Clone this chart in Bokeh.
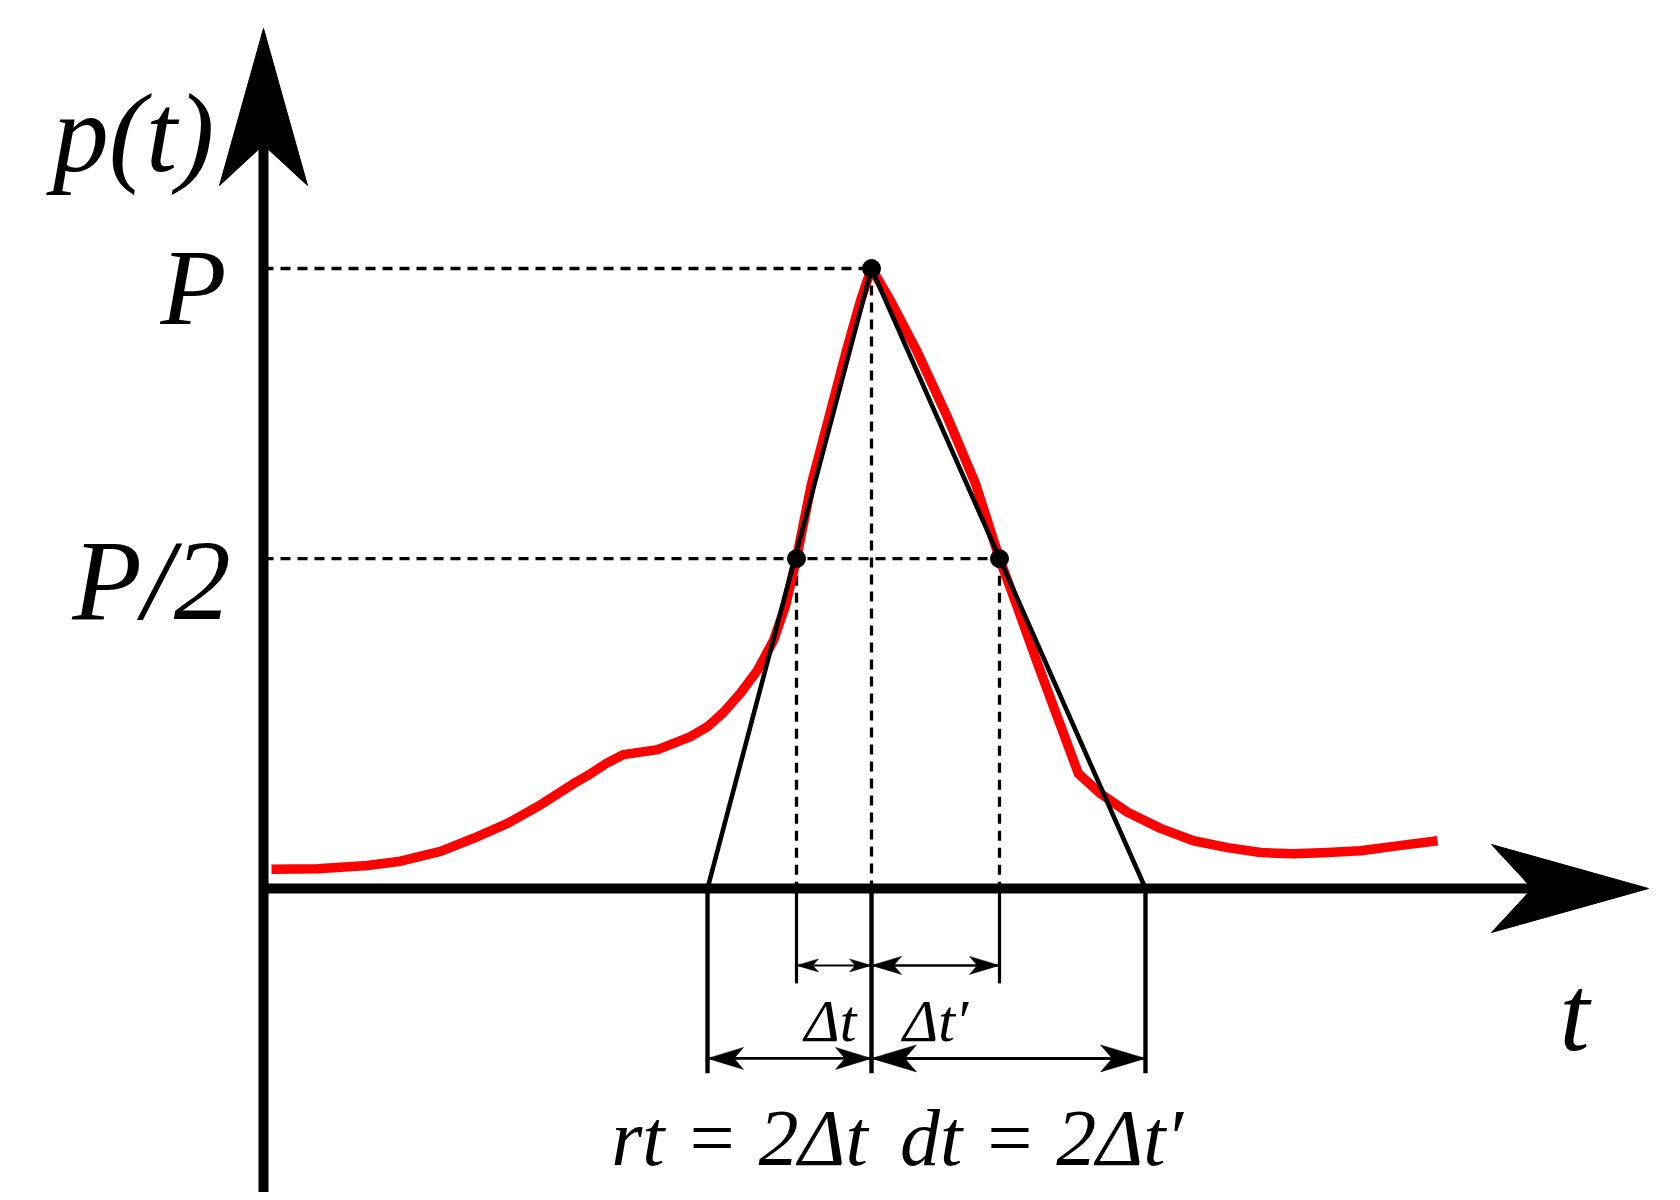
from bokeh.plotting import figure
from bokeh.models import Range1d
from bokeh.embed import file_html
from bokeh.resources import INLINE
from bokeh.core.properties import value

# ---------------- data (t in arbitrary time units, p normalised so P = 1) ----------------
curve_t = [0.08, 0.54, 1.04, 1.37, 1.77, 2.10, 2.44, 2.77, 3.10, 3.27, 3.44, 3.60, 3.77,
           3.94, 4.10, 4.27, 4.44, 4.60, 4.77, 4.94, 5.10, 5.22, 5.33, 5.48, 5.655,
           5.83, 5.97, 6.03, 6.08, 6.14, 6.27, 6.53, 6.84, 7.12, 7.36, 7.54, 7.74,
           7.94, 8.15, 8.37, 8.64, 8.97, 9.30, 9.64, 9.97, 10.30, 10.64, 10.97,
           11.30, 11.74]
curve_p = [0.031, 0.032, 0.037, 0.044, 0.060, 0.081, 0.105, 0.135, 0.169, 0.185, 0.203,
           0.216, 0.220, 0.224, 0.234, 0.245, 0.261, 0.284, 0.315, 0.352, 0.400, 0.456,
           0.532, 0.653, 0.760, 0.868, 0.948, 0.977, 1.000, 0.984, 0.948, 0.868, 0.760,
           0.653, 0.532, 0.453, 0.363, 0.276, 0.185, 0.153, 0.123, 0.097, 0.077, 0.066,
           0.058, 0.056, 0.058, 0.061, 0.068, 0.077]

P = 1.0
P_half = 0.532
t_peak = 6.08
t_half = [5.33, 7.36]          # times where p = P/2 (left, right)
t_base = [4.44, 8.82]          # triangle base (left, right)

axis_t_end = 13.85
axis_p_end = 1.387

label_axis_y = "p(t)"
label_axis_x = "t"
label_P = "P"
label_P_half = "P/2"
label_dt_small = ["Δt", "Δt′"]
label_dt_big = ["rt = 2Δt", "dt = 2Δt′"]

# ---------------- layout ----------------
W, H = 1672, 1192
SX, SY = 100.0, 620.0           # screen px per data unit
x0 = -2.63
y1 = 888.0 / SY
xr = Range1d(x0, x0 + W / SX)
yr = Range1d(y1 - H / SY, y1)

p = figure(width=W, height=H, x_range=xr, y_range=yr, output_backend="svg",
           toolbar_location=None, x_axis_type=None, y_axis_type=None,
           min_border=0, outline_line_color=None)
p.background_fill_color = "white"
p.border_fill_color = "white"


def head(tx, ty, ux, uy, L, hw, notch=0.74):
    nx, ny = -uy, ux
    pts = [(0.0, 0.0),
           (-L * ux + hw * nx, -L * uy + hw * ny),
           (-notch * L * ux, -notch * L * uy),
           (-L * ux - hw * nx, -L * uy - hw * ny)]
    return [tx + a / SX for a, b in pts], [ty + b / SY for a, b in pts]


# dashed guides
dash = "10 7"
p.segment(x0=[0, 0], y0=[P, P_half], x1=[t_peak, t_half[1]], y1=[P, P_half],
          line_color="black", line_width=3.3, line_dash=dash)
p.segment(x0=[t_peak, t_half[0], t_half[1]], y0=[P, P_half, P_half],
          x1=[t_peak, t_half[0], t_half[1]], y1=[0, 0, 0],
          line_color="black", line_width=3.3, line_dash=dash)

# red pulse
p.line(curve_t, curve_p, line_color="#ff0000", line_width=9.5, line_join="round", line_cap="butt")

# triangle approximation
p.line([t_base[0], t_peak, t_base[1]], [0, P, 0], line_color="black", line_width=4.6)

# dots
p.scatter([t_peak, t_half[0], t_half[1]], [P, P_half, P_half], size=18,
          fill_color="black", line_color="black")

# axes
ax_L, ax_hw = 157, 44
p.segment(x0=[0], y0=[yr.start], x1=[0], y1=[axis_p_end - 0.74 * ax_L / SY],
          line_color="black", line_width=10)
p.segment(x0=[0], y0=[0], x1=[axis_t_end - 0.74 * ax_L / SX], y1=[0],
          line_color="black", line_width=10)
hx, hy = head(0, axis_p_end, 0, 1, ax_L, ax_hw)
p.patch(hx, hy, fill_color="black", line_color="black", line_width=1)
hx, hy = head(axis_t_end, 0, 1, 0, ax_L, ax_hw)
p.patch(hx, hy, fill_color="black", line_color="black", line_width=1)

# dimension (extension) lines below axis
p_long = -0.298
p_short = -0.153
p.segment(x0=[t_base[0], t_peak, t_base[1]], y0=[0, 0, 0],
          x1=[t_base[0], t_peak, t_base[1]], y1=[p_long] * 3,
          line_color="black", line_width=4.4)
p.segment(x0=t_half, y0=[0, 0], x1=t_half, y1=[p_short] * 2,
          line_color="black", line_width=3.2)

# double-headed dimension arrows
p_arr_small = -0.124
p_arr_big = -0.274
arrows = [
    (t_half[0], t_peak, p_arr_small, 22, 6.5, 2.0),
    (t_peak, t_half[1], p_arr_small, 30, 9.0, 2.5),
    (t_base[0], t_peak, p_arr_big, 36, 11.0, 2.8),
    (t_peak, t_base[1], p_arr_big, 45, 13.5, 3.0),
]
for a, b, yy, L, hw, lw in arrows:
    p.segment(x0=[a], y0=[yy], x1=[b], y1=[yy], line_color="black", line_width=lw)
    hx, hy = head(b, yy, 1, 0, L, hw)
    p.patch(hx, hy, fill_color="black", line_color="black", line_width=0.5)
    hx, hy = head(a, yy, -1, 0, L, hw)
    p.patch(hx, hy, fill_color="black", line_color="black", line_width=0.5)

# labels
font = value("Liberation Serif")
big = "108px"


def label(x, y, txt, size):
    p.text(x=[x], y=[y], text=[txt], text_font=font, text_font_style="italic",
           text_font_size=size, text_align="center", text_baseline="alphabetic",
           text_color="black")


label(-1.30, 1.218, label_axis_y, "112px")
label(-0.70, P - 0.031, label_P, big)
label(-1.12, P_half - 0.035, label_P_half, "114px")
label(13.11, -0.202, label_axis_x, big)
label(5.67, -0.213, label_dt_small[0], "60px")
label(6.72, -0.213, label_dt_small[1], "60px")
label(4.76, -0.403, label_dt_big[0], "80px")
label(7.78, -0.403, label_dt_big[1], "80px")

open("out.html", "w").write(file_html(p, INLINE))
